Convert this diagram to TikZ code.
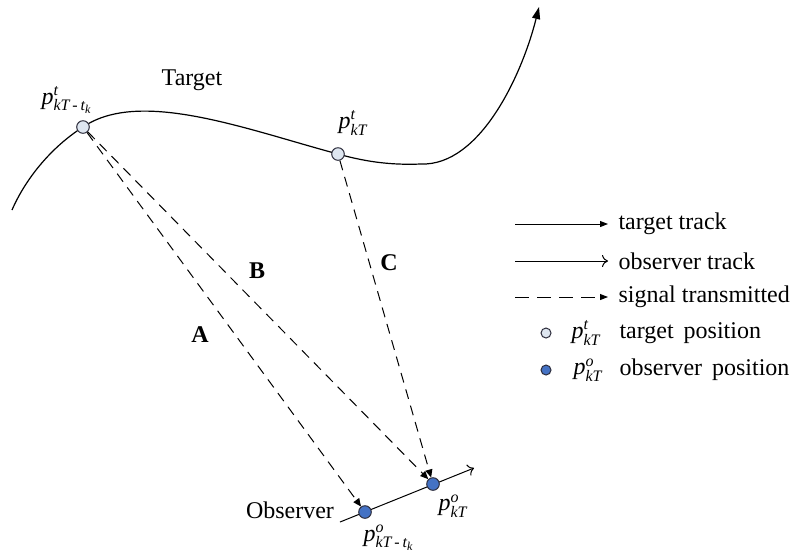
\documentclass[tikz,border=0pt]{standalone}
\usepackage{amsmath}
\usepackage{fontspec}
\setmainfont{Liberation Serif}
\usetikzlibrary{arrows.meta}
\definecolor{tgtfill}{RGB}{222,230,240}
\definecolor{obsfill}{RGB}{68,114,196}
\definecolor{dotline}{RGB}{45,45,60}
\newcommand{\ppos}[2]{$\textit{p}^{\textit{#1}}_{#2}$}
\newcommand{\tlag}{\textit{kT}\,\text{-}\,\textit{t}_{\textit{k}}}

\begin{document}
\begin{tikzpicture}[x=0.5pt,y=-0.5pt,line width=0.5pt,font=\fontsize{12}{14}\selectfont,
  tgt/.style={draw=dotline,fill=tgtfill,circle,inner sep=0pt,minimum size=6.3pt},
  obs/.style={draw=dotline,fill=obsfill,circle,inner sep=0pt,minimum size=6.3pt},
  sig/.style={dash pattern=on 5pt off 3.5pt,-{Triangle[length=4pt,width=3.5pt]}},
  lbl/.style={inner sep=0pt}]
\useasboundingbox (0,0) rectangle (790,554);

% target track
\coordinate (a1) at (83,127);
\coordinate (a2) at (338,154);
\coordinate (tstart) at (12,210);
\coordinate (tlow) at (421,164);
\coordinate (tend) at (539,7);
\draw[line width=0.6pt,-{Triangle[length=6pt,width=4pt]}] (tstart) .. controls (25,180) and (50,148) .. (a1)
  .. controls (140,88) and (248,130) .. (a2) .. controls (370,163) and (395,165) .. (tlow)
  .. controls (480,166) and (522,75) .. (tend);
\node[tgt] (pt1) at (a1) {};
\node[tgt] (pt2) at (a2) {};
\node[lbl] (tname) at (192,80) {Target};
\node[lbl] (pt1lbl) at (67,100) {\ppos{t}{\tlag}};
\node[lbl] (pt2lbl) at (353,123) {\ppos{t}{\textit{kT}}};

% observer track
\coordinate (ostart) at (340,522);
\coordinate (oend) at (474,468);
\draw[-{Computer Modern Rightarrow[length=3pt,width=6pt]}] (ostart) -- (oend);
\node[obs] (po1) at (365,512) {};
\node[obs] (po2) at (433,484) {};
\node[lbl] (oname) at (290,510) {Observer};
\node[lbl] (po1lbl) at (389,538) {\ppos{o}{\tlag}};
\node[lbl] (po2lbl) at (453,506) {\ppos{o}{\textit{kT}}};

% signals
\draw[sig] (pt1) -- (po1);
\draw[sig] (pt1) -- (po2);
\draw[sig] (pt2) -- (po2);
\node[lbl,font=\fontsize{12}{14}\selectfont\bfseries] (sa) at (200,335) {A};
\node[lbl,font=\fontsize{12}{14}\selectfont\bfseries] (sb) at (257,271) {B};
\node[lbl,font=\fontsize{12}{14}\selectfont\bfseries] (sc) at (389,263) {C};

% legend
\coordinate (lg1) at (515,224);
\coordinate (lg2) at (515,261);
\coordinate (lg3) at (515,297);
\node[lbl,anchor=west] (lt1) at (618,224) {target track};
\node[lbl,anchor=west] (lt2) at (618,261) {observer track};
\node[lbl,anchor=west] (lt3) at (618,297) {signal transmitted};
\draw[-{Triangle[length=4pt,width=3pt]},shorten >=5pt] (lg1) -- (lt1.west);
\draw[-{Computer Modern Rightarrow[length=3pt,width=6pt]},shorten >=5pt] (lg2) -- (lt2.west);
\draw[dash pattern=on 7pt off 4pt,-{Triangle[length=4pt,width=3pt]},shorten >=5pt] (lg3) -- (lt3.west);
\node[tgt,minimum size=5pt] (lgt) at (546,333) {};
\node[lbl] (lgtp) at (586,333) {\ppos{t}{\textit{kT}}};
\node[lbl,anchor=west] (lt4) at (619,333) {target\ \,position};
\node[obs,minimum size=5pt] (lgo) at (546,370) {};
\node[lbl] (lgop) at (588,370) {\ppos{o}{\textit{kT}}};
\node[lbl,anchor=west] (lt5) at (619,370) {observer\ \,position};
\end{tikzpicture}
\end{document}
